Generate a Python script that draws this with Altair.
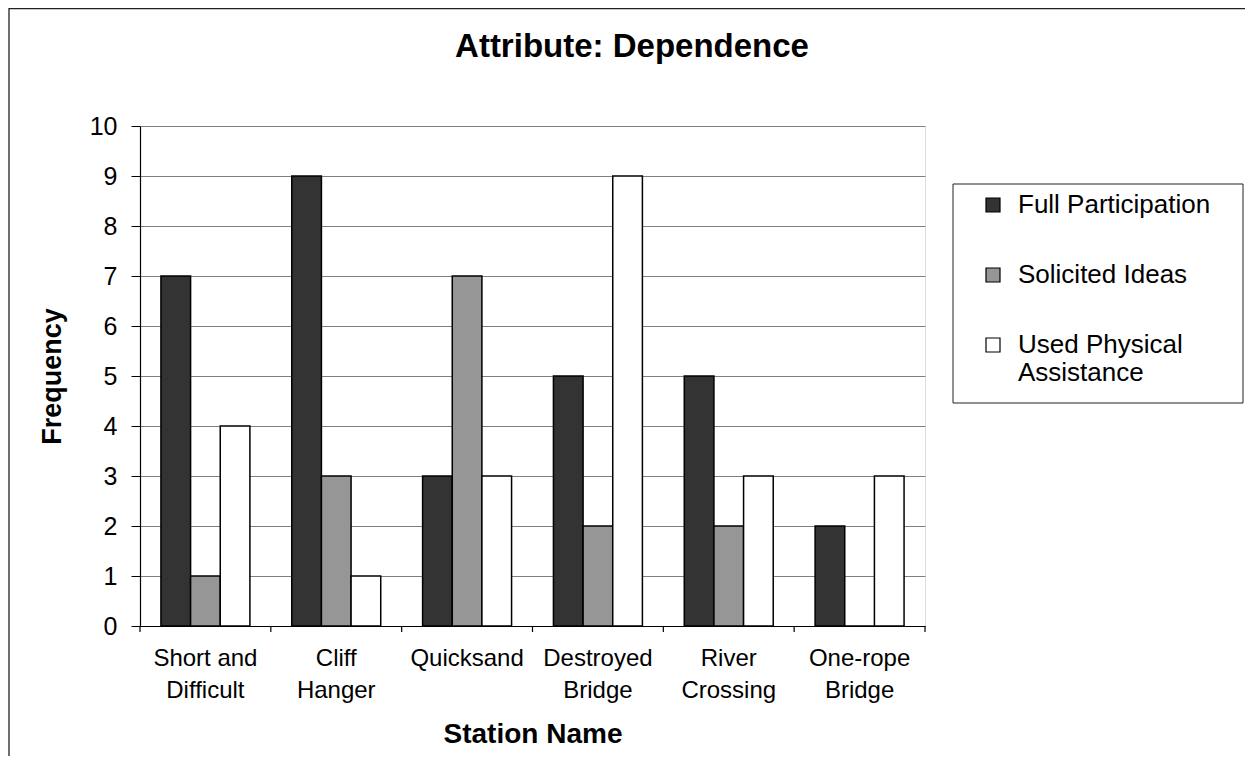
import altair as alt
import pandas as pd

title_text = "Attribute: Dependence"
stations = ["Short and Difficult", "Cliff Hanger", "Quicksand",
            "Destroyed Bridge", "River Crossing", "One-rope Bridge"]
series = ["Full Participation", "Solicited Ideas", "Used Physical Assistance"]
full_participation = [7, 9, 3, 5, 5, 2]
solicited_ideas = [1, 3, 7, 2, 2, 0]
used_physical = [4, 1, 3, 9, 3, 3]
colors = ["#333333", "#969696", "#ffffff"]
y_ticks = list(range(0, 11))

rows = []
for i, s in enumerate(stations):
    for name, vals in zip(series, [full_participation, solicited_ideas, used_physical]):
        rows.append({"Station": s, "Series": name, "Frequency": vals[i]})
df = pd.DataFrame(rows)

W, H = 785, 500
FONT = "Liberation Sans"

bars = alt.Chart(df).mark_bar(stroke="black", strokeWidth=1.5).encode(
    x=alt.X("Station:N", sort=stations,
            scale=alt.Scale(paddingInner=0.32, paddingOuter=0.16),
            axis=alt.Axis(title="Station Name", ticks=False, labelAngle=0,
                          labelFontSize=24, labelLineHeight=32, labelPadding=20,
                          labelColor="black", labelFont=FONT,
                          labelExpr="indexof(datum.label,' ') < 0 ? datum.label : "
                                    "[substring(datum.label,0,lastindexof(datum.label,' ')), "
                                    "substring(datum.label,lastindexof(datum.label,' ')+1)]",
                          domainColor="black", domainWidth=1.2,
                          titleFontSize=28, titleFont=FONT, titleFontWeight="bold",
                          titleY=116, titleBaseline="alphabetic", titleColor="black")),
    xOffset=alt.XOffset("Series:N", sort=series, scale=alt.Scale(paddingInner=0, paddingOuter=0)),
    y=alt.Y("Frequency:Q", scale=alt.Scale(domain=[0, 10], nice=False),
            axis=alt.Axis(title="Frequency", values=y_ticks, tickSize=9, tickColor="black",
                          labelFontSize=25, labelPadding=14, labelColor="black", labelFont=FONT,
                          domainColor="black", domainWidth=1.2,
                          grid=True, gridColor="#808080", gridWidth=1,
                          titleFontSize=27, titleFont=FONT, titleFontWeight="bold",
                          titleX=-88, titleY=250, titleAngle=270, titleBaseline="middle",
                          titleAlign="center", titleColor="black")),
    color=alt.Color("Series:N", sort=series,
                    scale=alt.Scale(domain=series, range=colors),
                    legend=alt.Legend(title=None, orient="none", legendX=840, legendY=66,
                                      padding=0, symbolType="square", symbolSize=196,
                                      symbolStrokeColor="black", symbolStrokeWidth=1.2,
                                      labelFontSize=26, labelFont=FONT, labelColor="black",
                                      labelOffset=12, labelLimit=400, rowPadding=44,
                                      labelExpr="datum.label == 'Used Physical Assistance' ? "
                                                "['Used Physical', 'Assistance'] : datum.label")),
)

bounds = pd.DataFrame({"b": list(range(len(stations) + 1))})
ticks = alt.Chart(bounds).mark_rule(color="black", strokeWidth=1.2).encode(
    x=alt.X("b:Q", scale=alt.Scale(domain=[0, len(stations)], nice=False, zero=False), axis=None),
    y=alt.value(H),
    y2=alt.value(H + 6),
)

one = pd.DataFrame({"a": [0]})
frame = alt.Chart(one).mark_rect(filled=False, color="#222222", strokeWidth=1.3).encode(
    x=alt.value(-131), x2=alt.value(1400), y=alt.value(-117.5), y2=alt.value(900))
legend_box = alt.Chart(one).mark_rect(filled=False, color="#222222", strokeWidth=1).encode(
    x=alt.value(813), x2=alt.value(1103), y=alt.value(58), y2=alt.value(277))

title = alt.Chart(pd.DataFrame({"t": [title_text]})).mark_text(
    font=FONT, fontSize=33, fontWeight="bold", align="center", baseline="alphabetic",
    color="black").encode(text="t:N", x=alt.value(492), y=alt.value(-69))

chart = alt.layer(frame, legend_box, bars, ticks, title).resolve_scale(x="independent").properties(
    width=W, height=H,
    autosize=alt.AutoSizeParams(type="none"),
    padding={"left": 132, "top": 118, "right": 320, "bottom": 130},
).configure_view(stroke="#808080", strokeWidth=1.2).configure(background="white")

chart.save("out.html", embed_options={"renderer": "svg", "actions": False})
